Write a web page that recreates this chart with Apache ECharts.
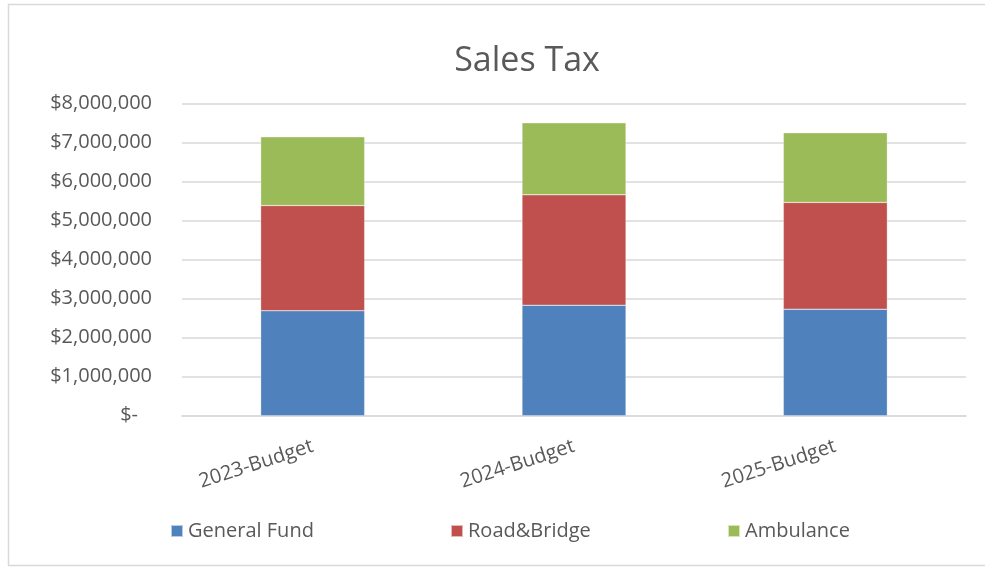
<!DOCTYPE html>
<html>
<head>
<meta charset="utf-8">
<script src="https://cdn.jsdelivr.net/npm/echarts@6/dist/echarts.min.js"></script>
<style>
  html, body { margin: 0; padding: 0; background: #fff; }
  #main { width: 985px; height: 567px; }
</style>
</head>
<body>
<div id="main"></div>
<script>
// values
var categories = ['2023-Budget', '2024-Budget', '2025-Budget'];
var generalFund = [2690000, 2830000, 2730000];
var roadBridge = [2695000, 2830000, 2735000];
var ambulance = [1760000, 1845000, 1785000];
var yTicks = { min: 0, max: 8000000, step: 1000000 };

var FONT = '"Open Sans", "DejaVu Sans", sans-serif';
var TXT = '#595959';

var chart = echarts.init(document.getElementById('main'));

function money(v) {
    if (v === 0) return '{z|$-}';
    return '$' + v.toLocaleString('en-US');
}

function legendAt(name, x) {
    return {
        data: [name],
        left: x,
        top: 521,
        padding: 0,
        icon: 'rect',
        itemWidth: 12,
        itemHeight: 12,
        itemGap: 5,
        textStyle: { fontFamily: FONT, fontSize: 20, color: TXT, padding: [0, 0, 0, 0] }
    };
}

function stack(name, data, color) {
    return {
        name: name,
        type: 'bar',
        stack: 'tax',
        barWidth: 104,
        data: data,
        itemStyle: { color: color, borderColor: 'rgba(255,255,255,0.6)', borderWidth: 0.5 }
    };
}

chart.setOption({
    animation: false,
    graphic: [{
        type: 'rect',
        shape: { x: 8.5, y: 4.5, width: 1000, height: 561 },
        style: { fill: null, stroke: '#d9d9d9', lineWidth: 1.5 },
        silent: true
    }],
    title: {
        text: 'Sales Tax',
        left: 522,
        top: 39,
        textAlign: 'center',
        textStyle: { fontFamily: FONT, fontSize: 34, fontWeight: 'normal', color: TXT }
    },
    legend: [
        legendAt('General Fund', 170),
        legendAt('Road&Bridge', 450),
        legendAt('Ambulance', 727)
    ],
    grid: { left: 182, right: 19, top: 103.5, bottom: 151.3 },
    xAxis: {
        type: 'category',
        data: categories,
        axisTick: { show: false },
        axisLine: { lineStyle: { color: '#d9d9d9', width: 1.5 } },
        axisLabel: {
            rotate: 18,
            margin: 30,
            fontFamily: FONT,
            fontSize: 20,
            color: TXT
        }
    },
    yAxis: {
        type: 'value',
        min: yTicks.min,
        max: yTicks.max,
        interval: yTicks.step,
        axisLine: { show: false },
        axisTick: { show: false },
        splitLine: { lineStyle: { color: '#d9d9d9', width: 1.5 } },
        axisLabel: {
            margin: 30,
            fontFamily: FONT,
            fontSize: 20,
            color: TXT,
            formatter: money,
            rich: { z: { fontFamily: FONT, fontSize: 20, color: TXT, padding: [0, 14, 0, 0] } }
        }
    },
    series: [
        stack('General Fund', generalFund, '#4F81BD'),
        stack('Road&Bridge', roadBridge, '#C0504D'),
        stack('Ambulance', ambulance, '#9BBB59')
    ]
});
</script>
</body>
</html>
